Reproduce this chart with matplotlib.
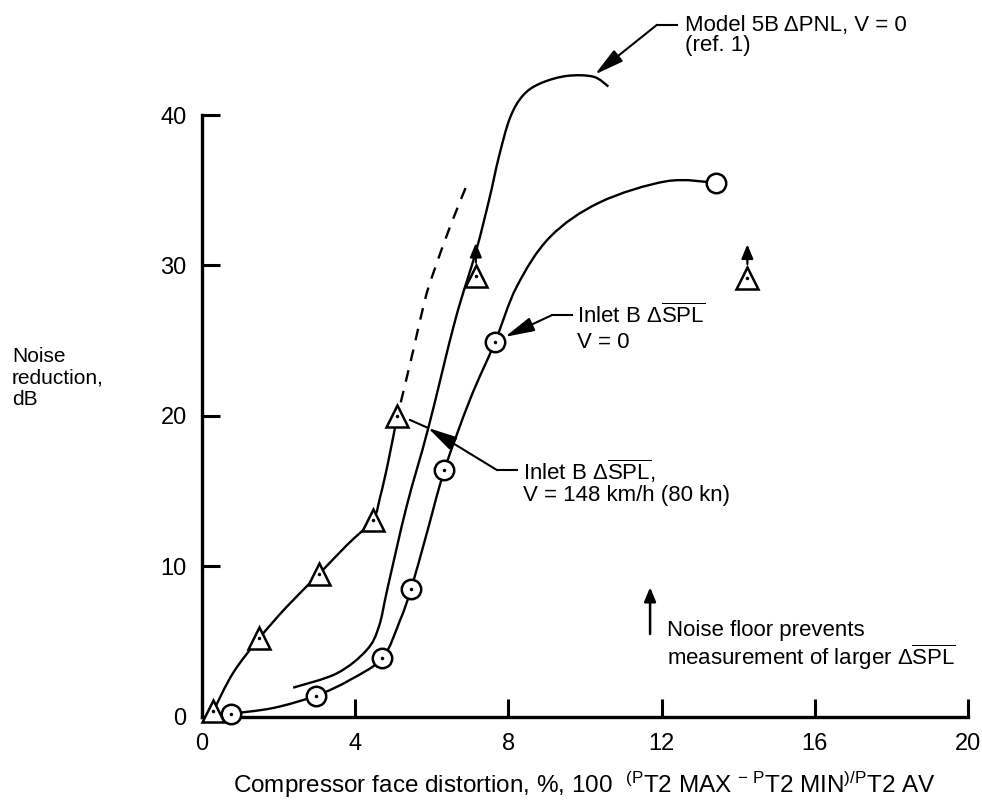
import matplotlib
matplotlib.use("Agg")
import matplotlib.pyplot as plt
from matplotlib.path import Path
from matplotlib.patches import PathPatch

plt.rcParams['font.family'] = ['Liberation Sans', 'DejaVu Sans']
plt.rcParams['mathtext.fontset'] = 'custom'
plt.rcParams['mathtext.rm'] = 'Liberation Sans'
plt.rcParams['mathtext.it'] = 'Liberation Sans'
plt.rcParams['mathtext.bf'] = 'Liberation Sans:bold'

# Inlet B, V = 0 (circles)
cir_x = [0.75, 2.98, 4.71, 5.46, 6.33, 7.65, 13.41]
cir_y = [0.2, 1.4, 3.9, 8.5, 16.4, 24.9, 35.5]
# faired curve through the circles
cir_fair_x = [0.75, 1.86, 2.98, 3.86, 4.71, 5.17, 5.46, 5.87, 6.33, 7.0, 7.65, 8.22, 9.09, 10.39, 12.13, 13.41]
cir_fair_y = [0.2, 0.58, 1.4, 2.44, 3.9, 6.4, 8.5, 12.2, 16.4, 21.1, 24.9, 28.6, 31.9, 34.2, 35.6, 35.5]

# Inlet B, V = 148 km/h (triangles)
tri_x = [0.3, 1.49, 3.06, 4.46, 5.10, 7.15, 14.24]
tri_y = [0.4, 5.2, 9.5, 13.1, 20.0, 29.3, 29.2]
floor_x = [7.15, 14.24]   # points limited by noise floor
floor_y = [29.3, 29.2]
tri_fair_x = [0.3, 0.81, 1.49, 2.21, 3.06, 3.78, 4.46, 4.65, 4.85, 5.10]
tri_fair_y = [0.4, 2.9, 5.2, 7.3, 9.5, 11.4, 13.1, 14.6, 16.8, 20.0]
dash_x = [5.19, 5.52, 5.82, 6.04, 6.48, 6.89]
dash_y = [20.9, 24.4, 27.7, 29.5, 32.6, 35.2]

# Model 5B dPNL, V = 0 (ref. 1)
m_x = [2.38, 3.52, 4.30, 4.62, 4.85, 5.34, 5.91, 6.61, 7.15, 7.50, 7.75, 8.04, 8.38,
       8.83, 9.52, 10.22, 10.61]
m_y = [1.93, 2.88, 4.43, 6.0, 8.6, 13.96, 19.2, 26.35, 30.9, 34.4, 37.2, 39.8, 41.3,
       42.1, 42.6, 42.55, 41.9]

x_ticks = [0, 4, 8, 12, 16, 20]
y_ticks = [0, 10, 20, 30, 40]


def smooth_curve(ax, xs, ys, **kw):
    # cubic Bezier segments through the read points (Catmull-Rom style tangents)
    pts = list(zip(xs, ys))
    n = len(pts)
    verts = [pts[0]]
    codes = [Path.MOVETO]
    for i in range(n - 1):
        p0 = pts[i - 1] if i > 0 else pts[i]
        p1 = pts[i]
        p2 = pts[i + 1]
        p3 = pts[i + 2] if i + 2 < n else pts[i + 1]
        c1 = (p1[0] + (p2[0] - p0[0]) / 6, p1[1] + (p2[1] - p0[1]) / 6)
        c2 = (p2[0] - (p3[0] - p1[0]) / 6, p2[1] - (p3[1] - p1[1]) / 6)
        verts += [c1, c2, p2]
        codes += [Path.CURVE4] * 3
    patch = PathPatch(Path(verts, codes), facecolor='none', edgecolor='k', **kw)
    ax.add_patch(patch)


fig = plt.figure(figsize=(9.82, 8.07), dpi=100)
ax = fig.add_axes([0.2057, 0.1119, 0.78, 0.8881])
ax.set_xlim(0, 20)
ax.set_ylim(0, 47.65)

lw = 1.7
smooth_curve(ax, m_x, m_y, lw=lw)
smooth_curve(ax, cir_fair_x, cir_fair_y, lw=lw)
smooth_curve(ax, tri_fair_x, tri_fair_y, lw=lw)
smooth_curve(ax, dash_x, dash_y, lw=lw, linestyle=(0, (5, 4)))

ax.plot(cir_x, cir_y, ls='none', marker='o', ms=14, mfc='white', mec='k', mew=1.8,
        clip_on=False, zorder=3)
ax.plot(cir_x[:-1], cir_y[:-1], ls='none', marker='.', ms=3, color='k', clip_on=False, zorder=4)
ax.plot(tri_x, tri_y, ls='none', marker='^', ms=16, mfc='white', mec='k', mew=1.8,
        clip_on=False, zorder=3)
ax.plot(tri_x, tri_y, ls='none', marker='.', ms=3, color='k', clip_on=False, zorder=4)

# up arrows on noise-floor limited points
for fx, fy in zip(floor_x, floor_y):
    ax.annotate('', xy=(fx, fy + 2.2), xytext=(fx, fy + 0.9),
                arrowprops=dict(arrowstyle='-|>,head_length=0.6,head_width=0.25', color='k',
                                lw=1.6, mutation_scale=14, shrinkA=0, shrinkB=0), zorder=5)

fs = 16
arr = dict(arrowstyle='-|>,head_length=0.9,head_width=0.22', color='k', lw=1.5,
           mutation_scale=20, shrinkA=0, shrinkB=0)

# Model 5B label
ax.plot([11.88, 12.40], [46.0, 46.0], color='k', lw=1.5, clip_on=False)
ax.annotate('', xy=(10.26, 42.7), xytext=(11.88, 46.0), arrowprops=arr, annotation_clip=False)
ax.text(12.61, 45.59, 'Model 5B \u0394PNL, V = 0', fontsize=fs, va='baseline', ha='left')
ax.text(12.61, 44.26, '(ref. 1)', fontsize=fs, va='baseline', ha='left')

# Inlet B V = 0 label
ax.plot([9.14, 9.66], [26.7, 26.7], color='k', lw=1.5)
ax.annotate('', xy=(7.91, 25.25), xytext=(9.14, 26.7), arrowprops=arr)
ax.text(9.79, 26.18, r'Inlet B $\Delta\overline{\rm SPL}$', fontsize=fs, va='baseline', ha='left')
ax.text(9.79, 24.52, 'V = 0', fontsize=fs, va='baseline', ha='left')

# Inlet B V = 148 label
ax.plot([7.70, 8.22], [16.4, 16.4], color='k', lw=1.5)
ax.plot([5.90, 5.43], [19.2, 19.73], color='k', lw=1.5)
ax.annotate('', xy=(5.90, 19.2), xytext=(7.70, 16.4), arrowprops=arr)
ax.text(8.38, 15.74, r'Inlet B $\Delta\overline{\rm SPL}$,', fontsize=fs, va='baseline', ha='left')
ax.text(8.38, 14.34, 'V = 148 km/h (80 kn)', fontsize=fs, va='baseline', ha='left')

# noise floor note
ax.annotate('', xy=(11.70, 8.6), xytext=(11.70, 5.5),
            arrowprops=dict(arrowstyle='-|>,head_length=0.6,head_width=0.25', color='k',
                            lw=1.8, mutation_scale=14, shrinkA=0, shrinkB=0))
ax.text(12.14, 5.35, 'Noise floor prevents', fontsize=fs, va='baseline', ha='left')
ax.text(12.14, 3.45, r'measurement of larger $\Delta\overline{\rm SPL}$', fontsize=fs,
        va='baseline', ha='left')

# axes styling
for s in ['top', 'right']:
    ax.spines[s].set_visible(False)
ax.spines['left'].set_bounds(0, 40)
ax.spines['bottom'].set_bounds(0, 20)
ax.spines['left'].set_linewidth(2.4)
ax.spines['bottom'].set_linewidth(2.4)
ax.set_xticks(x_ticks)
ax.set_yticks(y_ticks)
ax.tick_params(direction='in', length=13, width=2.2, labelsize=17)
ax.tick_params(axis='x', pad=12)
ax.tick_params(axis='y', pad=11)

for txt, py in [('Noise', 362), ('reduction,', 384), ('dB', 405)]:
    fig.text(12 / 982, (807 - py) / 807, txt, fontsize=15, ha='left', va='baseline')

fig.text(233 / 982, (807 - 793) / 807,
         r'Compressor face distortion, %, 100  '
         r'${}^{(\mathrm{P}}\mathrm{T2\ MAX}\ {}^{-\ \mathrm{P}}\mathrm{T2\ MIN}'
         r'{}^{)/\mathrm{P}}\mathrm{T2\ AV}$',
         fontsize=17.5, ha='left', va='baseline')

fig.savefig('out.png', dpi=100)
